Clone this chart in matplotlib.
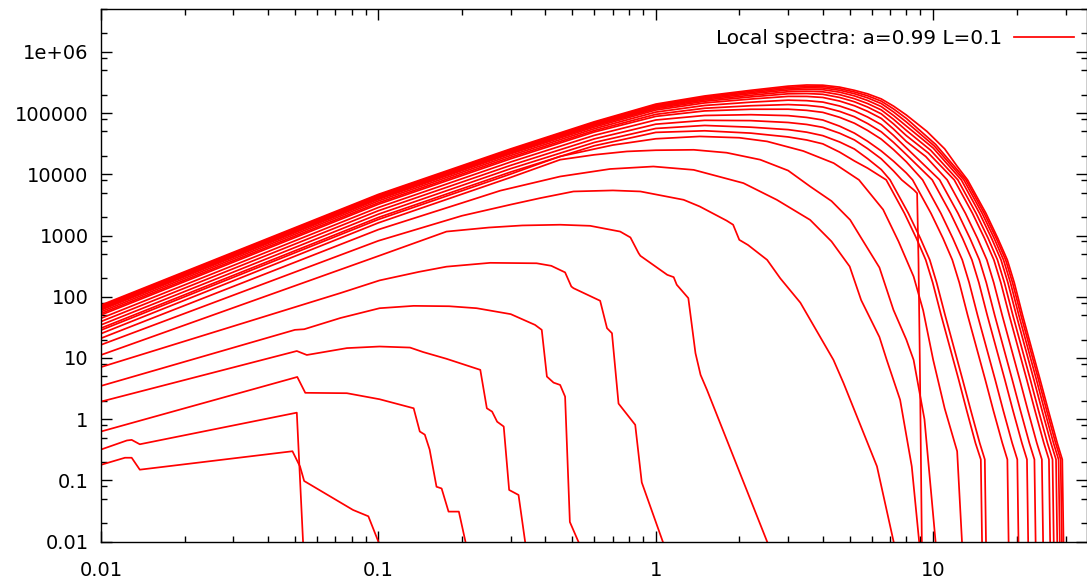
import matplotlib
matplotlib.use('Agg')
import matplotlib.pyplot as plt
from matplotlib.ticker import FixedLocator, FixedFormatter, NullFormatter

# energy (x) and flux (y) of each local spectrum, coolest (bottom) curve first
e01 = [0.01, 0.0122, 0.0129, 0.0138, 0.049, 0.0522, 0.054, 0.081, 0.092, 0.100]
f01 = [0.18, 0.235, 0.235, 0.15, 0.30, 0.168, 0.098, 0.033, 0.026, 0.01]
e02 = [0.01, 0.0124, 0.0129, 0.0138, 0.0508, 0.0535]
f02 = [0.32, 0.45, 0.46, 0.39, 1.28, 0.01]
e03 = [0.01, 0.051, 0.0545, 0.077, 0.101, 0.134, 0.141, 0.147, 0.153, 0.162, 0.169, 0.179, 0.195, 0.206]
f03 = [0.63, 4.9, 2.7, 2.66, 2.12, 1.51, 0.63, 0.56, 0.32, 0.079, 0.074, 0.031, 0.031, 0.01]
e04 = [0.01, 0.0508, 0.0552, 0.077, 0.101, 0.130, 0.145, 0.176, 0.233, 0.246, 0.257, 0.268, 0.283, 0.296, 0.320, 0.338]
f04 = [1.94, 13.0, 11.2, 14.5, 15.4, 14.8, 12.5, 9.7, 6.4, 1.51, 1.33, 0.91, 0.76, 0.07, 0.058, 0.01]
e05 = [0.01, 0.050, 0.054, 0.073, 0.101, 0.134, 0.18, 0.226, 0.30, 0.367, 0.388, 0.405, 0.428, 0.452, 0.471, 0.49, 0.526]
f05 = [3.5, 28.8, 29.5, 45, 65, 71, 70, 65, 52, 34.7, 28.8, 4.97, 3.96, 3.63, 2.34, 0.021, 0.01]
e06 = [0.01, 0.073, 0.101, 0.14, 0.176, 0.253, 0.372, 0.42, 0.471, 0.496, 0.505, 0.63, 0.667, 0.695, 0.734, 0.843, 0.89, 1.06]
f06 = [7.1, 115, 185, 255, 310, 358, 352, 320, 250, 147, 138, 86, 30.7, 25.4, 1.8, 0.81, 0.093, 0.01]
e07 = [0.01, 0.101, 0.176, 0.25, 0.33, 0.452, 0.58, 0.744, 0.81, 0.867, 0.88, 1.10, 1.16, 1.19, 1.31, 1.39, 1.45, 1.53, 2.52]
f07 = [11.2, 470, 1160, 1350, 1460, 1500, 1440, 1160, 930, 515, 466, 228, 209, 157, 95, 12, 5.3, 3.0, 0.01]
e08 = [0.01, 0.1, 0.2, 0.3, 0.383, 0.505, 0.70, 0.88, 1.26, 1.44, 1.80, 1.90, 2.0, 2.15, 2.52, 2.81, 3.32, 4.37, 4.75, 6.27, 7.2]
f08 = [16.4, 820, 2100, 3200, 4080, 5240, 5450, 5240, 3830, 2980, 1750, 1500, 850, 700, 400, 200, 80, 9.3, 3.9, 0.17, 0.01]
e09 = [0.01, 0.1, 0.2, 0.275, 0.452, 0.684, 0.98, 1.37, 2.07, 2.73, 3.60, 4.3, 5.0, 5.5, 6.4, 6.8, 7.6, 8.37, 8.9]
f09 = [21, 1250, 3400, 5400, 9200, 12200, 13400, 11800, 7170, 3830, 1800, 800, 312, 88, 22, 9.3, 2.07, 0.17, 0.01]
e10 = [0.01, 0.1, 0.3, 0.452, 0.6, 0.787, 1.0, 1.37, 1.8, 2.38, 3.0, 3.60, 4.3, 5.02, 5.46, 6.4, 7.19, 8.0, 8.5, 9.3, 10.2]
f10 = [25, 1610, 8900, 17300, 20800, 23600, 24700, 25100, 22500, 17300, 11500, 6330, 3650, 1800, 964, 300, 61, 20, 9.3, 1.0, 0.01]
e11 = [0.01, 0.1, 0.3, 0.45, 0.7, 1.0, 1.44, 2.0, 2.52, 3.4, 4.38, 5.4, 6.6, 7.5, 8.5, 9.2, 10.0, 11.0, 12.2, 12.7]
f11 = [28.5, 1830, 10100, 19500, 30000, 38000, 41500, 39500, 34400, 24000, 15200, 8100, 2650, 800, 214, 60, 9.3, 1.5, 0.3, 0.01]

# hot inner spectra (the dense bundle)
e12 = [0.01, 0.1, 0.3, 0.6, 1.0, 1.5, 2.2, 3.0, 3.5, 4.0, 4.6, 5.2, 5.8, 6.77, 7.88, 8.7, 9.4, 9.96, 10.68, 12.36, 13.2, 14.2, 14.85, 15.0]
f12 = [30.7, 1970, 10900, 29200, 48300, 51300, 47000, 40700, 36300, 31400, 23000, 16500, 12600, 8100, 2300, 900, 400, 170, 50, 4.4, 1.4, 0.41, 0.22, 0.01]
e13 = [0.01, 0.1, 0.3, 0.6, 1.0, 1.5, 2.2, 3.0, 3.5, 4.0, 4.6, 5.2, 5.8, 6.5, 6.99, 8.14, 8.99, 9.72, 10.29, 11.04, 12.77, 13.66, 14.71, 15.35, 15.5]
f13 = [34.7, 2230, 12350, 33100, 56000, 62700, 58750, 53600, 48700, 42750, 33700, 25850, 18000, 11900, 8100, 2300, 900, 400, 170, 50, 4.4, 1.4, 0.41, 0.22, 0.01]
e14 = [0.01, 0.1, 0.3, 0.6, 1.0, 1.5, 2.2, 3.0, 3.5, 4.0, 4.6, 5.2, 5.8, 6.5, 7.2, 7.7, 8.5, 8.75, 8.85, 8.95, 9.1]
f14 = [39.4, 2540, 14000, 37800, 65800, 76000, 75200, 70100, 65100, 58400, 46800, 36400, 26250, 17850, 11300, 8100, 5600, 4900, 400, 9, 0.01]
e15 = [0.01, 0.1, 0.3, 0.6, 1.0, 1.5, 2.2, 3.0, 3.5, 4.0, 4.6, 5.2, 5.8, 6.5, 7.2, 8.0, 8.43, 9.82, 10.85, 11.72, 12.42, 13.31, 15.41, 16.47, 17.75, 18.51, 18.7]
f15 = [44.5, 2870, 15900, 43200, 77000, 91200, 94000, 90750, 84800, 76950, 61000, 47000, 34600, 24000, 16300, 10500, 8100, 2300, 900, 400, 170, 50, 4.4, 1.4, 0.41, 0.22, 0.01]
e16 = [0.01, 0.1, 0.3, 0.6, 1.0, 1.5, 2.2, 3.0, 3.5, 4.0, 4.6, 5.2, 5.8, 6.5, 7.2, 8.0, 9.16, 10.66, 11.77, 12.73, 13.48, 14.45, 16.73, 17.88, 19.26, 20.10, 20.3]
f16 = [50.4, 3240, 17900, 49000, 88200, 108300, 115200, 115500, 110600, 102600, 85100, 68200, 52000, 37400, 25200, 16000, 8100, 2300, 900, 400, 170, 50, 4.4, 1.4, 0.41, 0.22, 0.01]
e17 = [0.01, 0.1, 0.3, 0.6, 1.0, 1.5, 2.2, 3.0, 3.5, 4.0, 4.6, 5.2, 5.8, 6.5, 7.2, 8.0, 9.92, 11.55, 12.76, 13.79, 14.61, 15.66, 18.13, 19.38, 20.88, 21.78, 22.0]
f17 = [53.3, 3430, 19000, 51800, 95200, 119700, 131600, 137500, 133600, 125400, 106400, 87000, 67400, 49300, 33100, 21000, 8100, 2300, 900, 400, 170, 50, 4.4, 1.4, 0.41, 0.22, 0.01]
e18 = [0.01, 0.1, 0.3, 0.6, 1.0, 1.5, 2.2, 3.0, 3.5, 4.0, 4.6, 5.2, 5.8, 6.5, 7.2, 8.0, 10.55, 12.29, 13.57, 14.67, 15.54, 16.66, 19.28, 20.62, 22.21, 23.17, 23.4]
f18 = [56.9, 3670, 20300, 55400, 103600, 133000, 150400, 162300, 159300, 151000, 130300, 108100, 86100, 64600, 43000, 27000, 8100, 2300, 900, 400, 170, 50, 4.4, 1.4, 0.41, 0.22, 0.01]
e19 = [0.01, 0.1, 0.3, 0.6, 1.0, 1.5, 2.2, 3.0, 3.5, 4.0, 4.6, 5.2, 5.8, 6.5, 7.2, 8.0, 9.4, 11.23, 13.07, 14.44, 15.61, 16.53, 17.73, 20.52, 21.94, 23.63, 24.65, 24.9]
f19 = [60.6, 3900, 21600, 59000, 112000, 146300, 169200, 187000, 186700, 179600, 156900, 131600, 106700, 81600, 54600, 34400, 19500, 8100, 2300, 900, 400, 170, 50, 4.4, 1.4, 0.41, 0.22, 0.01]
e20 = [0.01, 0.1, 0.3, 0.6, 1.0, 1.5, 2.2, 3.0, 3.5, 4.0, 4.6, 5.2, 5.8, 6.5, 7.2, 8.0, 9.6, 11.91, 13.86, 15.31, 16.55, 17.53, 18.80, 21.75, 23.26, 25.05, 26.14, 26.4]
f20 = [62.8, 4040, 22400, 61900, 117600, 155800, 183300, 206300, 208300, 202400, 179600, 152800, 125300, 96900, 66300, 42800, 22300, 8100, 2300, 900, 400, 170, 50, 4.4, 1.4, 0.41, 0.22, 0.01]
e21 = [0.01, 0.1, 0.3, 0.6, 1.0, 1.5, 2.2, 3.0, 3.5, 4.0, 4.6, 5.2, 5.8, 6.5, 7.2, 8.0, 9.8, 12.27, 14.28, 15.78, 17.05, 18.06, 19.37, 22.41, 23.96, 25.81, 26.93, 27.2]
f21 = [64.6, 4160, 23000, 63700, 122500, 163400, 195000, 222800, 227000, 222300, 199600, 171600, 143000, 112200, 78800, 52100, 24600, 8100, 2300, 900, 400, 170, 50, 4.4, 1.4, 0.41, 0.22, 0.01]
e22 = [0.01, 0.1, 0.3, 0.6, 1.0, 1.5, 2.2, 3.0, 3.5, 4.0, 4.6, 5.2, 5.8, 6.5, 7.2, 8.0, 10.0, 12.63, 14.70, 16.24, 17.56, 18.59, 19.94, 23.07, 24.67, 26.57, 27.72, 28.0]
f22 = [66.4, 4280, 23700, 65500, 126700, 170000, 206800, 237900, 244300, 240800, 219000, 190400, 160500, 127500, 91100, 61400, 26800, 8100, 2300, 900, 400, 170, 50, 4.4, 1.4, 0.41, 0.22, 0.01]
e23 = [0.01, 0.1, 0.3, 0.6, 1.0, 1.5, 2.2, 3.0, 3.5, 4.0, 4.6, 5.2, 5.8, 6.5, 7.2, 8.0, 10.1, 12.90, 15.02, 16.59, 17.93, 18.99, 20.36, 23.57, 25.20, 27.14, 28.31, 28.6]
f23 = [68.6, 4420, 24400, 67700, 130900, 176700, 216200, 250300, 258700, 256500, 235700, 206800, 177000, 142800, 104100, 71600, 28900, 8100, 2300, 900, 400, 170, 50, 4.4, 1.4, 0.41, 0.22, 0.01]
e24 = [0.01, 0.1, 0.3, 0.6, 1.0, 1.5, 2.2, 3.0, 3.5, 4.0, 4.6, 5.2, 5.8, 6.5, 7.2, 8.0, 10.2, 13.12, 15.28, 16.88, 18.25, 19.32, 20.72, 23.98, 25.64, 27.62, 28.81, 29.1]
f24 = [70.8, 4560, 25200, 69800, 135800, 183400, 225600, 262600, 272000, 270800, 250000, 220900, 191500, 156400, 116500, 81800, 30800, 8100, 2300, 900, 400, 170, 50, 4.4, 1.4, 0.41, 0.22, 0.01]
e25 = [0.01, 0.1, 0.3, 0.6, 1.0, 1.5, 2.2, 3.0, 3.5, 4.0, 4.6, 5.2, 5.8, 6.5, 7.2, 8.0, 9.5, 11.0, 12.2, 13.3, 15.5, 17.1, 18.5, 19.6, 21.0, 24.3, 26.0, 28.0, 29.2, 29.5]
f25 = [73, 4700, 26000, 72000, 140000, 190000, 235000, 275000, 287000, 285000, 265000, 235000, 206000, 170000, 129500, 93000, 50000, 26000, 13500, 8100, 2300, 900, 400, 170, 50, 4.4, 1.4, 0.41, 0.22, 0.01]

x_ticks = [0.01, 0.1, 1, 10]
x_labels = ['0.01', '0.1', '1', '10']
y_ticks = [0.01, 0.1, 1, 10, 100, 1000, 10000, 100000, 1e6]
y_labels = ['0.01', '0.1', '1', '10', '100', '1000', '10000', '100000', '1e+06']
legend_label = 'Local spectra: a=0.99 L=0.1'

curves = [(e01, f01), (e02, f02), (e03, f03), (e04, f04), (e05, f05),
          (e06, f06), (e07, f07), (e08, f08), (e09, f09), (e10, f10),
          (e11, f11), (e12, f12), (e13, f13), (e14, f14), (e15, f15),
          (e16, f16), (e17, f17), (e18, f18), (e19, f19), (e20, f20),
          (e21, f21), (e22, f22), (e23, f23), (e24, f24), (e25, f25)]

plt.rcParams['font.family'] = 'DejaVu Sans'
plt.rcParams['font.size'] = 14

fig = plt.figure(figsize=(10.87, 5.82), dpi=100)
ax = fig.add_axes([101 / 1087, 40.3 / 582, 985.5 / 1087, 532.7 / 582])

for i, (x, y) in enumerate(curves):
    ax.plot(x, y, color='#ff0000', lw=1.25, label=legend_label if i == 0 else None)

ax.set_xscale('log')
ax.set_yscale('log')
ax.set_xlim(0.01, 35.7)
ax.set_ylim(0.01, 5e6)

ax.xaxis.set_major_locator(FixedLocator(x_ticks))
ax.xaxis.set_major_formatter(FixedFormatter(x_labels))
ax.yaxis.set_major_locator(FixedLocator(y_ticks))
ax.yaxis.set_major_formatter(FixedFormatter(y_labels))
xminor = [m * 10.0 ** k for k in range(-2, 2) for m in range(2, 10)]
yminor = [m * 10.0 ** k for k in range(-2, 7) for m in (2, 5, 8)]
ax.xaxis.set_minor_locator(FixedLocator(xminor))
ax.yaxis.set_minor_locator(FixedLocator(yminor))
ax.xaxis.set_minor_formatter(NullFormatter())
ax.yaxis.set_minor_formatter(NullFormatter())
ax.tick_params(which='both', direction='in', top=True, right=True, width=1, color='black')
ax.tick_params(which='major', length=8)
ax.tick_params(which='minor', length=4)
ax.tick_params(axis='x', pad=14)
ax.tick_params(axis='y', pad=9)
for s in ax.spines.values():
    s.set_linewidth(1)

ax.legend(loc='upper right', frameon=False, markerfirst=False, handlelength=3.0,
          handletextpad=0.55, bbox_to_anchor=(0.999, 0.985), borderaxespad=0.2,
          prop={'size': 14.4})

fig.savefig('out.png', dpi=100)
